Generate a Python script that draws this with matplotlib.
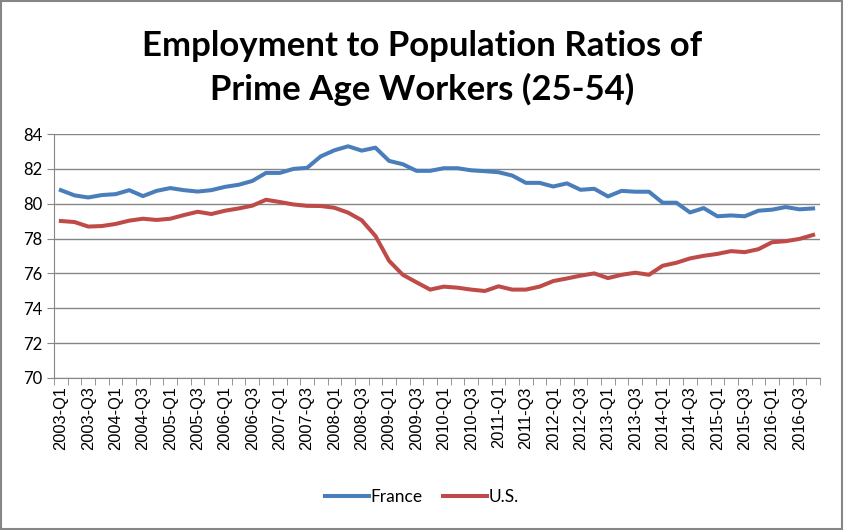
import matplotlib
matplotlib.use('Agg')
import matplotlib.pyplot as plt
from matplotlib.patches import Rectangle

# quarterly data, 2003-Q1 .. 2016-Q4
years = list(range(2003, 2017))
quarters = ['{}-Q{}'.format(y, q) for y in years for q in range(1, 5)]

france = [80.78, 80.48, 80.36, 80.50, 80.55, 80.78, 80.44, 80.74, 80.90, 80.78,
          80.70, 80.78, 80.97, 81.09, 81.31, 81.77, 81.77, 82.00, 82.06, 82.72,
          83.07, 83.30, 83.05, 83.22, 82.46, 82.27, 81.89, 81.89, 82.04, 82.04,
          81.92, 81.87, 81.81, 81.62, 81.20, 81.20, 80.99, 81.17, 80.80, 80.86,
          80.42, 80.74, 80.69, 80.69, 80.06, 80.06, 79.50, 79.75, 79.28, 79.33,
          79.28, 79.60, 79.66, 79.81, 79.68, 79.73]
us = [79.01, 78.95, 78.69, 78.72, 78.84, 79.03, 79.14, 79.07, 79.14, 79.35,
      79.54, 79.41, 79.60, 79.73, 79.89, 80.23, 80.10, 79.96, 79.88, 79.87,
      79.77, 79.49, 79.05, 78.15, 76.72, 75.92, 75.49, 75.07, 75.24, 75.18,
      75.07, 74.99, 75.26, 75.07, 75.07, 75.24, 75.56, 75.71, 75.87, 76.00,
      75.73, 75.92, 76.04, 75.92, 76.44, 76.61, 76.86, 77.01, 77.12, 77.28,
      77.22, 77.39, 77.79, 77.85, 77.98, 78.21]

plt.rcParams['font.family'] = ['Lato', 'DejaVu Sans']

fig = plt.figure(figsize=(8.44, 5.30), dpi=100)
ax = fig.add_axes([0.064, 0.287, 0.9075, 0.46])

x = list(range(len(quarters)))
ax.plot(x, france, color='#4A7EBB', lw=2.9, label='France')
ax.plot(x, us, color='#BE4B48', lw=2.9, label='U.S.')

ax.set_xlim(-0.5, len(quarters) - 0.5)
ax.set_ylim(70, 84)
ax.set_yticks(range(70, 85, 2))
ax.grid(axis='y', color='#868686', lw=1)
ax.set_axisbelow(True)

ax.set_xticks(x[::2])
ax.set_xticklabels(quarters[::2], rotation=90, family='Liberation Sans', fontsize=11.8)
ax.set_xticks([i - 0.5 for i in range(len(quarters) + 1)], minor=True)
ax.tick_params(axis='x', which='major', length=0, pad=6)
ax.tick_params(axis='x', which='minor', length=5, color='#868686', direction='out')
ax.tick_params(axis='y', length=5, color='#868686', labelsize=12)

for s in ['top', 'right']:
    ax.spines[s].set_visible(False)
for s in ['left', 'bottom']:
    ax.spines[s].set_color('#868686')

fig.text(0.5, 0.913, 'Employment to Population Ratios of', ha='center', va='center',
         fontsize=25, fontweight='bold')
fig.text(0.5, 0.832, 'Prime Age Workers (25-54)', ha='center', va='center',
         fontsize=25, fontweight='bold')

fig.legend(loc='center', bbox_to_anchor=(0.5, 0.063), ncol=2, frameon=False,
           fontsize=12.5, handlelength=2.5, columnspacing=1.2, handletextpad=0.1)

fig.patches.append(Rectangle((0.001, 0.001), 0.997, 0.997, transform=fig.transFigure,
                             fill=False, edgecolor='#868686', lw=1.5))

fig.savefig('out.png', dpi=100)
